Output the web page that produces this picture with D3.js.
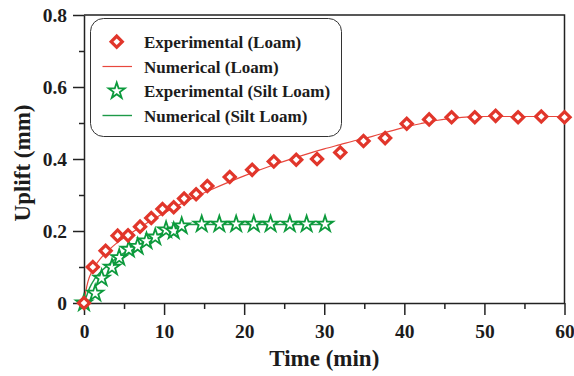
<!DOCTYPE html>
<html>
<head>
<meta charset="utf-8">
<script src="https://cdnjs.cloudflare.com/ajax/libs/d3/7.8.5/d3.min.js"></script>
<style>
  html, body { margin: 0; padding: 0; background: #fff; }
  svg { display: block; }
  text { font-family: "Liberation Serif", "Times New Roman", serif; font-weight: bold; fill: #1c1c1c; }
</style>
</head>
<body>
<svg id="chart" width="574" height="376"></svg>
<script>
// Measured uplift for the loam soil
const loamTime = [0, 1.1, 2.7, 4.2, 5.5, 7.0, 8.4, 9.8, 11.2, 12.5, 14.0, 15.4, 18.2, 21.0, 23.7, 26.5, 29.1, 32.0, 34.9, 37.6, 40.3, 43.1, 45.9, 48.8, 51.4, 54.2, 57.1, 60.0];
const loamUplift = [0, 0.100, 0.145, 0.187, 0.188, 0.212, 0.236, 0.261, 0.266, 0.290, 0.302, 0.325, 0.350, 0.370, 0.393, 0.398, 0.400, 0.418, 0.450, 0.458, 0.498, 0.510, 0.516, 0.516, 0.520, 0.516, 0.518, 0.516];

// Model prediction for the loam soil
const loamModelTime = [0, 0.25, 0.5, 1, 1.5, 2, 3, 4, 5, 6, 7, 8, 10, 12, 14, 16, 18, 20, 22, 24, 26, 28, 30, 32, 34, 36, 38, 40, 42, 44, 46, 48, 50, 55, 60];
const loamModelUplift = [0, 0.035, 0.060, 0.088, 0.107, 0.122, 0.145, 0.165, 0.181, 0.196, 0.210, 0.224, 0.250, 0.274, 0.296, 0.316, 0.335, 0.353, 0.370, 0.386, 0.401, 0.415, 0.428, 0.440, 0.452, 0.463, 0.476, 0.488, 0.498, 0.507, 0.513, 0.517, 0.518, 0.518, 0.518];

// Measured uplift for the silt loam soil
const siltTime = [0, 1.4, 2.2, 3.5, 4.4, 5.6, 6.7, 7.8, 8.9, 10.25, 11.2, 12.2, 14.7, 16.9, 19.0, 21.2, 23.3, 25.7, 27.8, 30.1];
const siltUplift = [0, 0.027, 0.069, 0.099, 0.126, 0.149, 0.157, 0.172, 0.183, 0.203, 0.200, 0.214, 0.219, 0.219, 0.219, 0.219, 0.219, 0.219, 0.219, 0.219];

// Model prediction for the silt loam soil
const siltModelTime = [0, 0.3, 0.7, 1.3, 2, 3, 4, 5, 6, 7, 8, 9, 10, 11, 12, 13, 14, 20, 25, 30];
const siltModelUplift = [0, 0.018, 0.042, 0.066, 0.085, 0.105, 0.124, 0.139, 0.152, 0.164, 0.176, 0.187, 0.197, 0.206, 0.214, 0.218, 0.218, 0.218, 0.218, 0.218];

// Axis ticks
const xMajorTicks = [0, 10, 20, 30, 40, 50, 60];
const xMinorTicks = [5, 15, 25, 35, 45, 55];
const yMajorTicks = [0, 0.2, 0.4, 0.6, 0.8];
const yMinorTicks = [0.1, 0.3, 0.5, 0.7];

const legendLabels = ["Experimental (Loam)", "Numerical (Loam)", "Experimental (Silt Loam)", "Numerical (Silt Loam)"];

const RED = "#e1362b";
const RED_LINE = "#e8473d";
const GREEN = "#0c9a3c";
const GREEN_LINE = "#1d9a48";
const AXIS = "#222";

const svg = d3.select("#chart");
const plotL = 84, plotR = 564.5, plotT = 15, plotB = 303;

const x = d3.scaleLinear().domain([0, 60]).range([plotL, plotR]);
const y = d3.scaleLinear().domain([0, 0.8]).range([plotB, plotT]);

// Frame (top and right edges)
svg.append("path")
  .attr("d", `M${plotL},${plotT}H${plotR}V${plotB}`)
  .attr("fill", "none").attr("stroke", AXIS).attr("stroke-width", 1.5);

// Bottom axis: major ticks with labels, then minor ticks
svg.append("g").attr("transform", `translate(0,${plotB})`)
  .call(d3.axisBottom(x).tickValues(xMajorTicks).tickSize(12).tickSizeOuter(0).tickPadding(9).tickFormat(d3.format("d")));
svg.append("g").attr("transform", `translate(0,${plotB})`)
  .call(d3.axisBottom(x).tickValues(xMinorTicks).tickSize(6).tickSizeOuter(0).tickFormat(""))
  .select(".domain").remove();

// Left axis
svg.append("g").attr("transform", `translate(${plotL},0)`)
  .call(d3.axisLeft(y).tickValues(yMajorTicks).tickSize(11).tickSizeOuter(0).tickPadding(6)
    .tickFormat(d => d === 0 ? "0" : d3.format(".1f")(d)));
svg.append("g").attr("transform", `translate(${plotL},0)`)
  .call(d3.axisLeft(y).tickValues(yMinorTicks).tickSize(5).tickSizeOuter(0).tickFormat(""))
  .select(".domain").remove();

svg.selectAll(".domain, .tick line").attr("stroke", AXIS).attr("stroke-width", 1.5);
svg.selectAll(".tick text")
  .attr("font-family", "Liberation Serif, serif").attr("font-weight", "bold")
  .attr("font-size", 19.5).attr("fill", "#1c1c1c");

// Axis titles
svg.append("text").attr("x", (plotL + plotR) / 2).attr("y", 366)
  .attr("text-anchor", "middle").attr("font-size", 23).text("Time (min)");
svg.append("text")
  .attr("transform", `translate(30,${(plotT + plotB) / 2 + 4}) rotate(-90)`)
  .attr("text-anchor", "middle").attr("font-size", 23).text("Uplift (mm)");

// Model curves
const line = d3.line().x(d => x(d[0])).y(d => y(d[1])).curve(d3.curveMonotoneX);
svg.append("path").datum(d3.zip(loamModelTime, loamModelUplift))
  .attr("d", line).attr("fill", "none").attr("stroke", RED_LINE).attr("stroke-width", 1.2);
svg.append("path").datum(d3.zip(siltModelTime, siltModelUplift))
  .attr("d", line).attr("fill", "none").attr("stroke", GREEN_LINE).attr("stroke-width", 1.4);

// Marker shapes
const diamond = d3.symbol().type(d3.symbolSquare).size(62);
const star = d3.symbol().type(d3.symbolStar).size(80);

function drawDiamond(g, cx, cy) {
  g.append("path").attr("d", diamond())
    .attr("transform", `translate(${cx},${cy}) rotate(45)`)
    .attr("fill", "#fff").attr("stroke", RED).attr("stroke-width", 3.2);
}
function drawStar(g, cx, cy) {
  g.append("path").attr("d", star())
    .attr("transform", `translate(${cx},${cy})`)
    .attr("fill", "#fff").attr("stroke", GREEN).attr("stroke-width", 1.8)
    .attr("stroke-linejoin", "miter");
}

const siltG = svg.append("g");
d3.zip(siltTime, siltUplift).forEach(d => drawStar(siltG, x(d[0]), y(d[1])));
const loamG = svg.append("g");
d3.zip(loamTime, loamUplift).forEach(d => drawDiamond(loamG, x(d[0]), y(d[1])));

// Legend
const lg = svg.append("g");
lg.append("rect").attr("x", 90.5).attr("y", 18.5).attr("width", 251).attr("height", 118)
  .attr("rx", 13).attr("ry", 13).attr("fill", "#fff").attr("stroke", "#333").attr("stroke-width", 1);
const rowY = [41.7, 66.5, 91, 115.5];
drawDiamond(lg, 116.7, rowY[0]);
lg.append("line").attr("x1", 102.5).attr("x2", 132).attr("y1", rowY[1]).attr("y2", rowY[1])
  .attr("stroke", RED_LINE).attr("stroke-width", 1.2);
drawStar(lg, 116.7, rowY[2]);
lg.append("line").attr("x1", 102.5).attr("x2", 132).attr("y1", rowY[3]).attr("y2", rowY[3])
  .attr("stroke", GREEN_LINE).attr("stroke-width", 1.4);
legendLabels.forEach((t, i) => {
  lg.append("text").attr("x", 144).attr("y", rowY[i] + 6).attr("font-size", 17).text(t);
});
</script>
</body>
</html>
